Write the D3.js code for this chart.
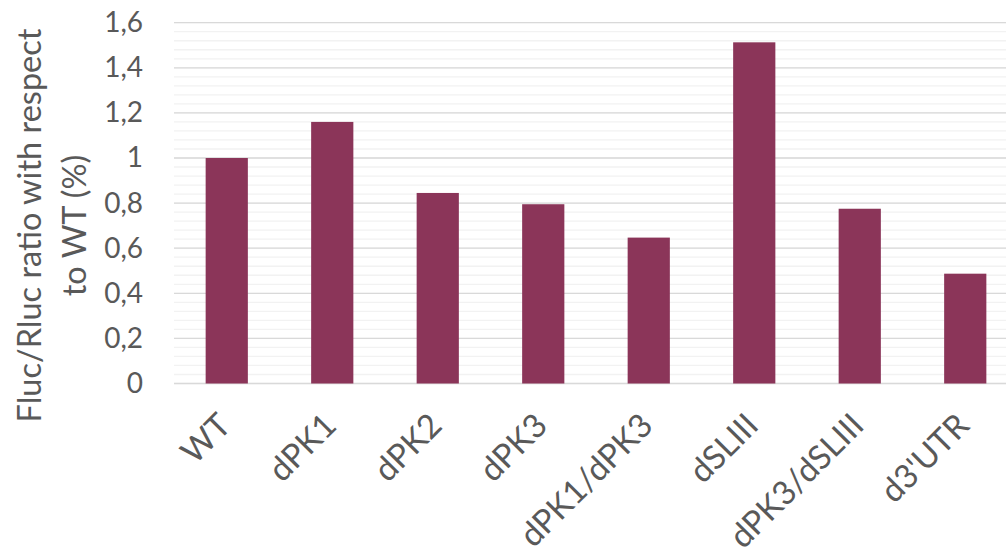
<!DOCTYPE html>
<html>
<head>
<meta charset="utf-8">
<script src="https://cdn.jsdelivr.net/npm/d3@7"></script>
<style>
  html, body { margin: 0; padding: 0; background: #fff; }
  svg { display: block; }
  text { font-family: Lato, "Open Sans", sans-serif; }
</style>
</head>
<body>
<svg id="chart" width="1006" height="549"></svg>
<script>
// Construct names and their normalized reporter ratios
const categories = ["WT", "dPK1", "dPK2", "dPK3", "dPK1/dPK3", "dSLIII", "dPK3/dSLIII", "d3'UTR"];
const values = [1.0, 1.16, 0.845, 0.795, 0.647, 1.513, 0.775, 0.487];
const yTicks = [0, 0.2, 0.4, 0.6, 0.8, 1.0, 1.2, 1.4, 1.6];
const yTickLabels = ["0", "0,2", "0,4", "0,6", "0,8", "1", "1,2", "1,4", "1,6"];
const minorTicks = d3.range(0, 1.6001, 0.04);
const titleLines = ["Fluc/Rluc ratio with respect", "to WT (%)"];

const svg = d3.select("#chart");
const plotLeft = 174, plotRight = 1018, plotTop = 22.7, plotBottom = 383.5;

const x = d3.scaleBand().domain(categories).range([plotLeft, plotRight]).paddingInner(0.6).paddingOuter(0.3);
const y = d3.scaleLinear().domain([0, 1.6]).range([plotBottom, plotTop]);

// minor gridlines
svg.append("g").selectAll("line").data(minorTicks).join("line")
  .attr("x1", plotLeft).attr("x2", plotRight)
  .attr("y1", d => y(d)).attr("y2", d => y(d))
  .attr("stroke", "#f2f2f2").attr("stroke-width", 1.3);

// major gridlines
svg.append("g").selectAll("line").data(yTicks).join("line")
  .attr("x1", plotLeft).attr("x2", plotRight)
  .attr("y1", d => y(d)).attr("y2", d => y(d))
  .attr("stroke", "#d9d9d9").attr("stroke-width", 1.3);

// bars
svg.append("g").selectAll("rect").data(values).join("rect")
  .attr("x", (d, i) => x(categories[i]))
  .attr("width", x.bandwidth())
  .attr("y", d => y(d))
  .attr("height", d => y(0) - y(d))
  .attr("fill", "#8b3559");

// y axis labels
const yAxis = d3.axisLeft(y).tickValues(yTicks).tickFormat((d, i) => yTickLabels[i]).tickSize(0).tickPadding(0);
const ya = svg.append("g").attr("transform", `translate(143,0)`).call(yAxis)
  .attr("font-family", null).attr("font-size", null);
ya.select(".domain").remove();
ya.selectAll("text").attr("fill", "#595959").style("font-size", "28px");

// x axis labels, rotated
const xAxis = d3.axisBottom(x).tickSize(0).tickPadding(0);
const xa = svg.append("g").attr("transform", `translate(0,${plotBottom})`).call(xAxis)
  .attr("font-family", null).attr("font-size", null);
xa.select(".domain").remove();
xa.selectAll("text")
  .attr("fill", "#595959").style("font-size", "33px")
  .attr("text-anchor", "end").attr("dy", null).attr("y", 0)
  .attr("transform", "translate(6,44) rotate(-45)");

// y axis title
const title = svg.append("text")
  .attr("transform", "translate(0,225.5) rotate(-90)")
  .attr("text-anchor", "middle").attr("fill", "#595959").style("font-size", "32.5px");
title.selectAll("tspan").data(titleLines).join("tspan")
  .attr("x", 0).attr("y", (d, i) => 41 + i * 44.5)
  .text(d => d);
</script>
</body>
</html>
